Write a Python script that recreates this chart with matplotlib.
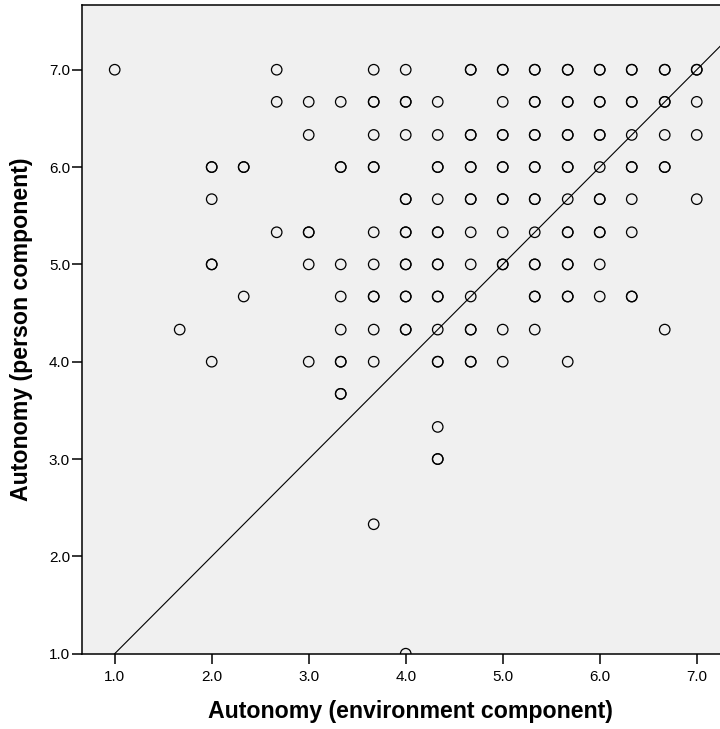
import numpy as np
import matplotlib
matplotlib.use("Agg")
import matplotlib.pyplot as plt

plt.rcParams['font.family'] = ['Liberation Sans', 'DejaVu Sans']

# Scatter data: environment component (x), person component (y),
# and how many observations sit on the same spot (drawn on top of each other)
env = [1.0, 2.67, 3.67, 4.0, 4.67, 5.0, 5.33, 5.67, 6.0, 6.33, 6.67, 7.0,
       2.67, 3.0, 3.33, 3.67, 4.0, 4.33, 5.0, 5.33, 5.67, 6.0, 6.33, 6.67, 7.0,
       3.0, 3.67, 4.0, 4.33, 4.67, 5.0, 5.33, 5.67, 6.0, 6.33, 6.67, 7.0,
       2.0, 2.33, 3.33, 3.67, 4.33, 4.67, 5.0, 5.33, 5.67, 6.0, 6.33, 6.67,
       2.0, 4.0, 4.33, 4.67, 5.0, 5.33, 5.67, 6.0, 6.33, 7.0,
       2.67, 3.0, 3.67, 4.0, 4.33, 4.67, 5.0, 5.33, 5.67, 6.0, 6.33,
       2.0, 3.0, 3.33, 3.67, 4.0, 4.33, 4.67, 5.0, 5.33, 5.67, 6.0,
       2.33, 3.33, 3.67, 4.0, 4.33, 4.67, 5.33, 5.67, 6.0, 6.33,
       1.67, 3.33, 3.67, 4.0, 4.33, 4.67, 5.0, 5.33, 6.67,
       2.0, 3.0, 3.33, 3.67, 4.33, 4.67, 5.0, 5.67,
       3.33, 4.33, 4.33, 3.67, 4.0]
person = [7.0] * 12 + [6.67] * 13 + [6.33] * 12 + [6.0] * 12 + [5.67] * 10 \
    + [5.33] * 11 + [5.0] * 11 + [4.67] * 10 + [4.33] * 9 + [4.0] * 8 \
    + [3.67, 3.33, 3.0, 2.33, 1.0]
count = [1, 1, 1, 1, 2, 2, 2, 2, 2, 2, 2, 2,
         1, 1, 1, 2, 2, 1, 1, 2, 2, 2, 2, 2, 1,
         1, 1, 1, 1, 2, 2, 2, 2, 2, 1, 1, 1,
         2, 2, 2, 2, 2, 2, 2, 2, 2, 1, 2, 2,
         1, 2, 1, 2, 2, 2, 1, 2, 1, 1,
         1, 2, 1, 2, 2, 1, 1, 1, 2, 2, 1,
         2, 1, 1, 1, 2, 2, 1, 2, 2, 2, 1,
         1, 1, 2, 2, 2, 1, 2, 2, 1, 2,
         1, 1, 1, 2, 1, 2, 1, 1, 1,
         1, 1, 2, 1, 2, 2, 1, 1,
         2, 1, 2, 1, 1]

ticks = [1, 2, 3, 4, 5, 6, 7]
tick_labels = ["1.0", "2.0", "3.0", "4.0", "5.0", "6.0", "7.0"]

x = np.repeat(env, count)
y = np.repeat(person, count)

fig = plt.figure(figsize=(7.2, 7.29), dpi=100)
# axes runs a little past the right edge of the picture, like the original
ax = fig.add_axes([0.1139, 0.1033, 0.8992, 0.8905])
ax.set_facecolor("#f0f0f0")

# reference line y = x
ax.plot([1, 8], [1, 8], color="black", linewidth=0.8, zorder=2)

ax.scatter(x, y, s=57, facecolors="none", edgecolors="black",
           linewidths=0.9, zorder=3)

ax.set_xlim(0.663, 7.337)
ax.set_ylim(1.0, 7.67)

ax.set_xticks(ticks)
ax.set_xticklabels(tick_labels)
ax.set_yticks(ticks)
ax.set_yticklabels(tick_labels)
ax.tick_params(axis="both", direction="out", length=7.2, width=1.1,
               labelsize=11, colors="black")
ax.tick_params(axis="x", pad=4.8)
ax.tick_params(axis="y", pad=1.4)

for side in ["left", "bottom", "top", "right"]:
    ax.spines[side].set_linewidth(1.1)
    ax.spines[side].set_color("black")

ax.set_xlabel("Autonomy (environment component)", fontsize=16.7,
              fontweight="bold", va="top")
ax.xaxis.set_label_coords(0.508, -0.0715)
ax.set_ylabel("Autonomy (person component)", fontsize=16.7,
              fontweight="bold", va="center")
ax.yaxis.set_label_coords(-0.0931, 0.5)

fig.savefig("out.png", dpi=100)
plt.close(fig)
